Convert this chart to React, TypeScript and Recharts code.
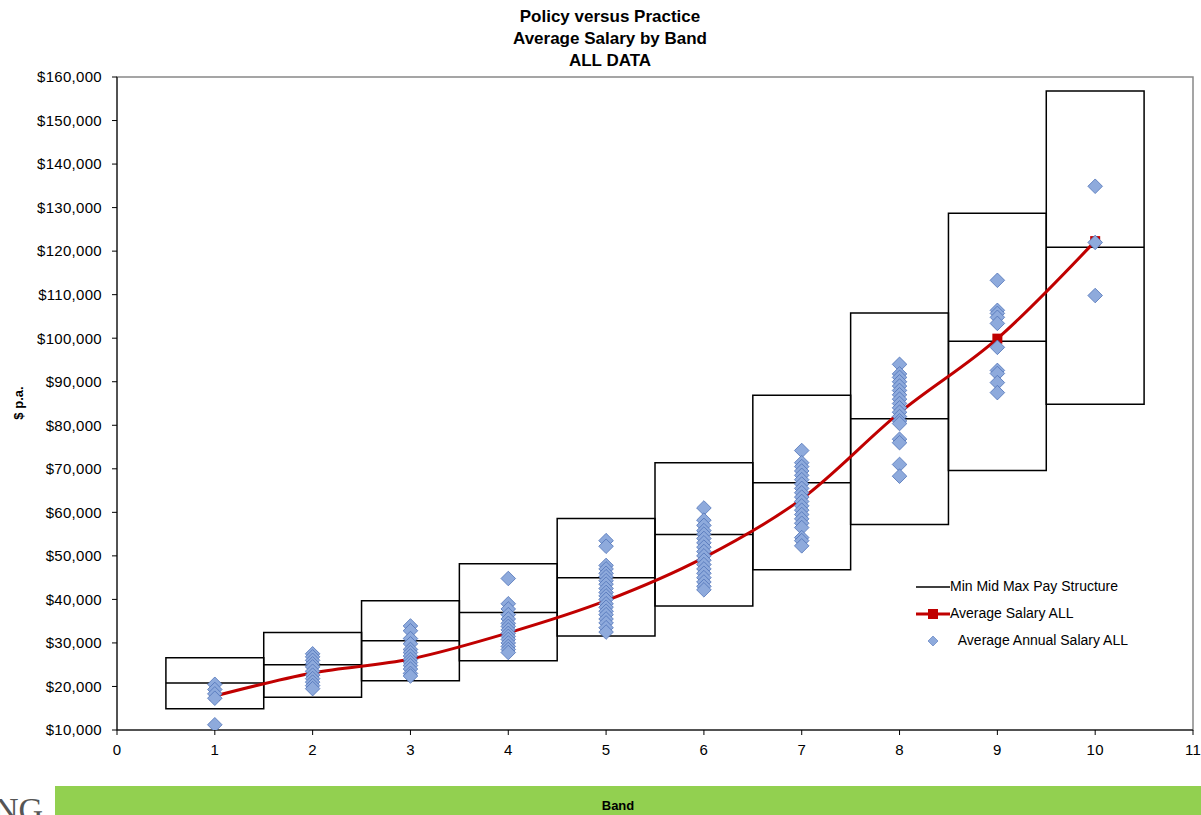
import React from "react";
import {
  ComposedChart,
  Line,
  Scatter,
  XAxis,
  YAxis,
  ReferenceArea,
  ReferenceLine,
} from "recharts";

const bands = [1, 2, 3, 4, 5, 6, 7, 8, 9, 10];
const payMin = [14900, 17500, 21300, 25900, 31600, 38500, 46800, 57200, 69600, 84800];
const payMid = [20800, 25000, 30500, 37000, 45000, 54900, 66800, 81500, 99300, 120900];
const payMax = [26600, 32400, 39700, 48200, 58600, 71400, 86900, 105800, 128700, 156800];
const avgSalary = [17800, 23100, 26300, 32300, 39700, 49600, 63100, 82900, 99900, 122300];

const salaries = [
  [20500, 19300, 18300, 17300, 11200],
  [27500, 26800, 26000, 25200, 24500, 23500, 22600, 21800, 21000, 20200, 19500],
  [33900, 32800, 31000, 29800, 28500, 27800, 27000, 26200, 25500, 24800, 24000, 23000, 22400],
  [44800, 39000, 37800, 36500, 35500, 34500, 33800, 33000, 32200, 31500, 30800, 30000, 29200, 28500, 27800],
  [53500, 52200, 47800, 47000, 46000, 45200, 44300, 43500, 42500, 41600, 40800, 40000, 39000, 38200, 37300, 36500, 35500, 34600, 33500, 32500],
  [61000, 58200, 57000, 55800, 55000, 54000, 53000, 52000, 51000, 50000, 49000, 48000, 47000, 46000, 45000, 44000, 43000, 42200],
  [74200, 71400, 70500, 69500, 68500, 67500, 66500, 65500, 64500, 63500, 62500, 61500, 60500, 59500, 58500, 57500, 56500, 54200, 53500, 52300],
  [94000, 91800, 91000, 90000, 89000, 88000, 87000, 86000, 85000, 84000, 83000, 82000, 81000, 80400, 76800, 76000, 71000, 68300],
  [113300, 106400, 105700, 104800, 103400, 97900, 92600, 91900, 89800, 87500],
  [134900, 122000, 109800],
];

const xTicks = [0, 1, 2, 3, 4, 5, 6, 7, 8, 9, 10, 11];
const yTicks = [10000, 20000, 30000, 40000, 50000, 60000, 70000, 80000, 90000, 100000, 110000, 120000, 130000, 140000, 150000, 160000];

const titleLines = ["Policy versus Practice", "Average Salary by Band", "ALL DATA"];

const FONT = "'Liberation Sans', Arial, sans-serif";
const DIAMOND_FILL = "#8EAADC";
const DIAMOND_STROKE = "#4F72B8";
const RED = "#C00000";

const avgData = bands.map((b, i) => ({ x: b, y: avgSalary[i] }));
const pointData = bands.flatMap((b, i) => salaries[i].map((s) => ({ x: b, y: s })));

const Diamond = (props: any) => {
  const { cx, cy } = props;
  if (cx == null || cy == null) return null;
  const r = 7.3;
  return (
    <path
      d={`M${cx},${cy - r}L${cx + r},${cy}L${cx},${cy + r}L${cx - r},${cy}Z`}
      fill={DIAMOND_FILL}
      stroke={DIAMOND_STROKE}
      strokeWidth={0.8}
    />
  );
};

const RedSquare = (props: any) => {
  const { cx, cy } = props;
  if (cx == null || cy == null) return null;
  return <rect x={cx - 5} y={cy - 5} width={10} height={10} fill={RED} />;
};

const money = (v: number) => "$" + v.toLocaleString("en-US");

const tickStyle = { fill: "#000", fontSize: 15, fontFamily: FONT, letterSpacing: 0.3 };

const LegendBox = () => (
  <div style={{ position: "absolute", left: 916, top: 573, fontFamily: FONT, fontSize: 14, color: "#000", lineHeight: "27px" }}>
    <div style={{ display: "flex", alignItems: "center" }}>
      <svg width={34} height={14}>
        <line x1={0} y1={7} x2={34} y2={7} stroke="#000" strokeWidth={1.3} />
      </svg>
      <span>Min Mid Max Pay Structure</span>
    </div>
    <div style={{ display: "flex", alignItems: "center" }}>
      <svg width={34} height={14}>
        <line x1={0} y1={7} x2={34} y2={7} stroke={RED} strokeWidth={3} />
        <rect x={12} y={2} width={10} height={10} fill={RED} />
      </svg>
      <span>Average Salary ALL</span>
    </div>
    <div style={{ display: "flex", alignItems: "center" }}>
      <svg width={34} height={14}>
        <path d="M17,2L22,7L17,12L12,7Z" fill={DIAMOND_FILL} stroke={DIAMOND_STROKE} strokeWidth={0.6} />
      </svg>
      <span>&nbsp;&nbsp;Average Annual Salary ALL</span>
    </div>
  </div>
);

export default function App() {
  return (
    <div style={{ position: "absolute", left: 0, top: 0, width: 1201, height: 815, background: "#fff", overflow: "hidden", fontFamily: FONT }}>
      <div style={{ position: "absolute", left: 0, width: 1220, top: 6, textAlign: "center", fontWeight: 700, fontSize: 17, lineHeight: "22px" }}>
        {titleLines.map((t) => (
          <div key={t}>{t}</div>
        ))}
      </div>
      <div
        style={{
          position: "absolute",
          left: 18,
          top: 403,
          transform: "translate(-50%, -50%) rotate(-90deg)",
          fontWeight: 700,
          fontSize: 13,
          whiteSpace: "nowrap",
        }}
      >
        $ p.a.
      </div>
      <ComposedChart width={1201} height={815} margin={{ top: 77, right: 8, bottom: 55, left: 0 }}>
        <XAxis
          type="number"
          dataKey="x"
          domain={[0, 11]}
          ticks={xTicks}
          interval={0}
          allowDataOverflow
          tick={tickStyle}
          tickLine={{ stroke: "#000" }}
          axisLine={{ stroke: "#000" }}
          tickSize={5}
          tickMargin={9}
          height={30}
        />
        <YAxis
          type="number"
          dataKey="y"
          domain={[10000, 160000]}
          ticks={yTicks}
          interval={0}
          allowDataOverflow
          tickFormatter={money}
          tick={tickStyle}
          tickLine={{ stroke: "#000" }}
          axisLine={{ stroke: "#000" }}
          tickSize={5}
          tickMargin={10}
          width={117}
        />
        <ReferenceArea x1={0} x2={11} y1={10000} y2={160000} fill="none" stroke="#888" strokeWidth={1.5} />
        {bands.map((b, i) => (
          <ReferenceArea
            key={"box" + b}
            x1={b - 0.5}
            x2={b + 0.5}
            y1={payMin[i]}
            y2={payMax[i]}
            fill="none"
            fillOpacity={0}
            stroke="#000"
            strokeWidth={1.5}
            strokeOpacity={1}
          />
        ))}
        {bands.map((b, i) => (
          <ReferenceLine
            key={"mid" + b}
            segment={[
              { x: b - 0.5, y: payMid[i] },
              { x: b + 0.5, y: payMid[i] },
            ]}
            stroke="#000"
            strokeWidth={1.5}
          />
        ))}
        <Line
          data={avgData}
          dataKey="y"
          type="monotone"
          stroke={RED}
          strokeWidth={3}
          dot={false}
          activeDot={false}
          isAnimationActive={false}
          name="Average Salary ALL line"
        />
        <Scatter
          data={avgData}
          dataKey="y"
          shape={<RedSquare />}
          isAnimationActive={false}
          name="Average Salary ALL"
        />
        <Scatter
          data={pointData}
          dataKey="y"
          shape={<Diamond />}
          isAnimationActive={false}
          name="Average Annual Salary ALL"
        />
      </ComposedChart>
      <LegendBox />
      <div
        style={{
          position: "absolute",
          left: 55,
          top: 786,
          width: 1146,
          height: 40,
          background: "#92D050",
          textAlign: "center",
          fontWeight: 700,
          fontSize: 13,
          lineHeight: "40px",
        }}
      >
        <div style={{ marginLeft: -20, lineHeight: "40px" }}>Band</div>
      </div>
      <div
        style={{
          position: "absolute",
          left: -6,
          top: 793,
          fontFamily: "'Liberation Serif', serif",
          fontSize: 34,
          color: "#555",
          lineHeight: "34px",
        }}
      >
        NG
      </div>
    </div>
  );
}
